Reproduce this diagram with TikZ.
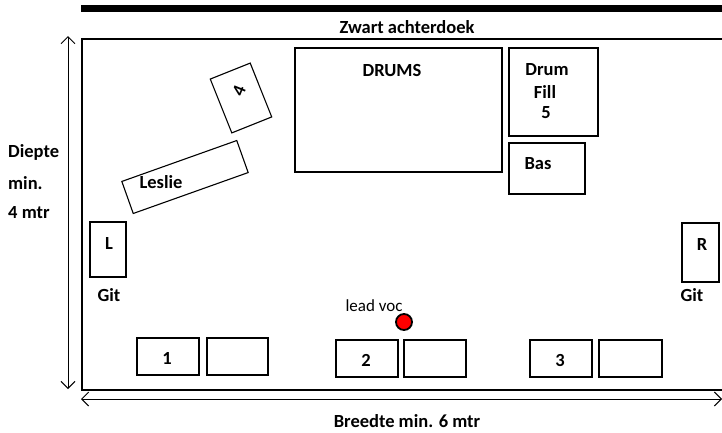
\documentclass[tikz,border=0pt]{standalone}
\usepackage{fontspec}
\setmainfont{Carlito}
\usetikzlibrary{arrows.meta}
\begin{document}
\begin{tikzpicture}[x=1pt,y=-1pt,
  box/.style={draw,line width=1.1pt,inner sep=0pt,outer sep=0pt},
  lbl/.style={font=\fontsize{18.5}{20}\selectfont\bfseries,inner sep=0pt},
  small/.style={font=\fontsize{17}{18}\selectfont,inner sep=0pt},
  dim/.style={line width=1pt,{Straight Barb[length=7pt,width=14pt,line width=1pt]}-{Straight Barb[length=7pt,width=14pt,line width=1pt]}}]
\useasboundingbox (0,0) rectangle (722,432);
% back curtain
\fill (81,5) rectangle (722,12);
\node[lbl] (curtain) at (407,27) {Zwart achterdoek};
% stage
\coordinate (stTR) at (722,39);
\coordinate (stTL) at (82,39);
\coordinate (stBL) at (82,390);
\coordinate (stBR) at (722,390);
\draw[line width=1.4pt] (stTR) -- (stTL) -- (stBL) -- (stBR);
% drums etc.
\draw[box] (295,48) rectangle (502,172);
\node[lbl] (drums) at (392,70) {DRUMS};
\draw[box] (509,48) rectangle (598,136);
\node[lbl] (drum) at (547,70) {Drum};
\node[lbl] (fill) at (545,92) {Fill};
\node[lbl] (five) at (546,113) {5};
\draw[box] (509,143) rectangle (585,194);
\node[lbl] (bas) at (538,164) {Bas};
% rotated boxes
\node[box,minimum width=43pt,minimum height=58pt,rotate=21.8] (four) at (241,98) {};
\node[lbl,rotate=68] (fourtxt) at (239,91) {4};
\node[box,minimum width=122pt,minimum height=34pt,rotate=19.6] (leslie) at (185,177) {};
\node[lbl] (leslietxt) at (161,182) {Leslie};
% guitars
\draw[box] (90,222) rectangle (126,277);
\node[lbl] (ltxt) at (109,243) {L};
\node[lbl] (gitl) at (109,295) {Git};
\draw[box] (682,223) rectangle (719,282);
\node[lbl] (rtxt) at (702,244) {R};
\node[lbl] (gitr) at (692,295) {Git};
% lead voc
\node[small] (leadvoc) at (374,306) {lead voc};
\node[circle,draw,line width=1.8pt,fill=red,minimum size=16pt,inner sep=0pt] (voc) at (404,322) {};
% monitors
\draw[box] (137,338) rectangle (199,375);
\node[lbl] (one) at (167,358) {1};
\draw[box] (207,338) rectangle (268,375);
\draw[box] (336,340) rectangle (398,377);
\node[lbl] (two) at (366,360) {2};
\draw[box] (404,340) rectangle (466,377);
\draw[box] (530,340) rectangle (592,377);
\node[lbl] (three) at (560,360) {3};
\draw[box] (599,340) rectangle (662,377);
% dimensions
\coordinate (vtop) at (68,36);
\coordinate (vbot) at (68,389);
\draw[dim] (vtop) -- (vbot);
\coordinate (hl) at (81,399);
\coordinate (hr) at (722,399);
\draw[dim] (hl) -- (hr);
\node[lbl,anchor=west] (d1) at (8,152) {Diepte};
\node[lbl,anchor=west] (d2) at (8,183) {min.};
\node[lbl,anchor=west] (d3) at (8,213) {4 mtr};
\node[lbl] (breedte) at (407,421) {Breedte min. 6 mtr};
\end{tikzpicture}
\end{document}
